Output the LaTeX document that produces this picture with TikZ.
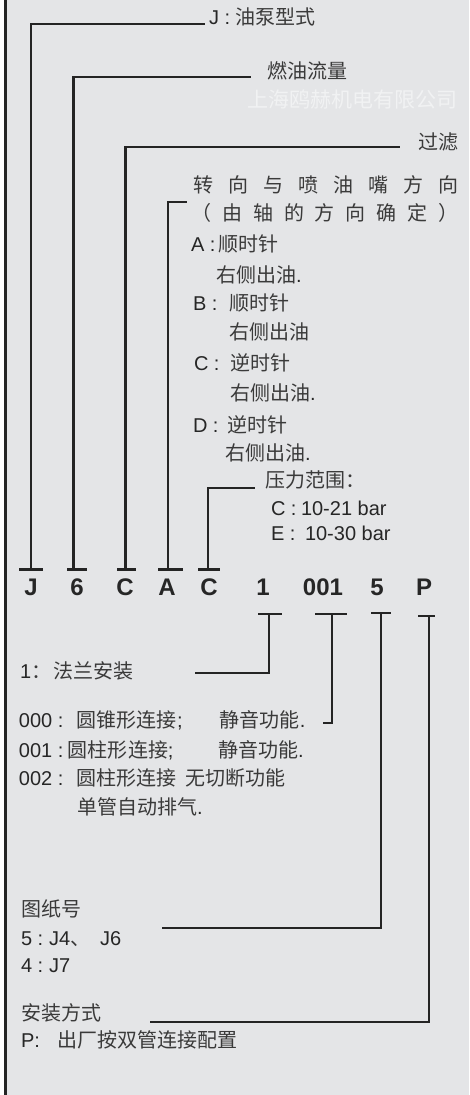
\documentclass[tikz,border=0pt]{standalone}
\usepackage{fontspec}
\setmainfont{Liberation Sans}
\newfontfamily\zhfont{Noto Sans CJK SC}
\definecolor{bg}{HTML}{E4E5E7}
\definecolor{ln}{HTML}{242424}
\definecolor{txt}{HTML}{262626}
\definecolor{zhc}{HTML}{3A3A3A}
\definecolor{wm}{HTML}{F1F2F3}
\newcommand\zh[1]{{\zhfont\color{zhc}#1}}
\newcommand\bx[2]{\makebox[#1][l]{#2}}
\newcommand\zhsp[2]{\makebox[#1][l]{\zhfont\color{zhc}#2}}
\begin{document}
\begin{tikzpicture}[x=1pt,y=-1pt,
  lbl/.style={anchor=base west,inner sep=0pt,outer sep=0pt,font=\fontsize{20}{24}\selectfont,text=txt},
  codech/.style={anchor=base,inner sep=0pt,outer sep=0pt,font=\fontsize{24}{28}\selectfont\bfseries,text=txt},
  lead/.style={draw=ln,line width=2.3pt,line join=miter,line cap=butt},
  tbar/.style={draw=ln,line width=2.3pt,line cap=butt}]
\useasboundingbox (0,0) rectangle (470,1095);
\fill[white] (0,0) rectangle (470,1095);
\fill[bg] (3.5,0) rectangle (468.5,1095);
\draw[lead] (5.5,0) -- (5.5,1095);

% code letters
\node[codech] (cJ)   at (31,595) {J};
\node[codech] (c6)   at (77,595) {6};
\node[codech] (cC)   at (125,595) {C};
\node[codech] (cA)   at (167,595) {A};
\node[codech] (cC2)  at (209,595) {C};
\node[codech] (c1)   at (263,595) {1};
\node[codech] (c001) at (323,595) {001};
\node[codech] (c5)   at (377,595) {5};
\node[codech] (cP)   at (424,595) {P};

% upper labels
\node[lbl] (lJ) at (209,24) {J : \zh{油泵型式}};
\node[lbl] (l6) at (267,78) {\zh{燃油流量}};
\node[lbl,font=\fontsize{21}{24}\selectfont] (wm) at (247,107.5) {{\zhfont\color{wm}上海鸥赫机电有限公司}};
\node[lbl] (lC) at (418,149) {\zh{过滤}};
\node[lbl] (lA1) at (193,192) {\zhsp{35pt}{转}\zhsp{35pt}{向}\zhsp{35pt}{与}\zhsp{35pt}{喷}\zhsp{35pt}{油}\zhsp{35pt}{嘴}\zhsp{35pt}{方}\zh{向}};
\node[lbl] (lA2) at (191,220) {\zhsp{31.5pt}{（}\zhsp{30.8pt}{由}\zhsp{30.8pt}{轴}\zhsp{30.8pt}{的}\zhsp{30.8pt}{方}\zhsp{30.8pt}{向}\zhsp{30.8pt}{确}\zhsp{30.8pt}{定}\zh{）}};
\node[lbl] (la) at (191,251) {\bx{27pt}{A :}\zh{顺时针}};
\node[lbl] (la2) at (216,282) {\zh{右侧出油}.};
\node[lbl] (lb) at (193,310) {\bx{36pt}{B :}\zh{顺时针}};
\node[lbl] (lb2) at (229,339) {\zh{右侧出油}};
\node[lbl] (lc) at (194,370) {\bx{36pt}{C :}\zh{逆时针}};
\node[lbl] (lc2) at (230,400) {\zh{右侧出油}.};
\node[lbl] (ld) at (193,432) {\bx{34pt}{D :}\zh{逆时针}};
\node[lbl] (ld2) at (225,460) {\zh{右侧出油}.};
\node[lbl] (lp) at (265,487) {\zh{压力范围：}};
\node[lbl] (lp1) at (271,515) {\bx{30pt}{C :}10-21 bar};
\node[lbl] (lp2) at (271,540) {\bx{34pt}{E :}10-30 bar};

% lower labels
\node[lbl] (l1) at (20,678) {\bx{33pt}{1\zh{：}}\zh{法兰安装}};
\node[lbl] (l000) at (19,727) {\bx{58pt}{000 :}\bx{143pt}{\zh{圆锥形连接};}\zh{静音功能}.};
\node[lbl] (l001) at (19,757) {\bx{49pt}{001 :}\bx{150pt}{\zh{圆柱形连接};}\zh{静音功能}.};
\node[lbl] (l002) at (19,785) {\bx{58pt}{002 :}\bx{109pt}{\zh{圆柱形连接}}\zh{无切断功能}};
\node[lbl] (l002b) at (77,814) {\zh{单管自动排气}.};
\node[lbl] (l5h) at (21,916) {\zh{图纸号}};
\node[lbl] (l5a) at (21,945) {\bx{28pt}{5 :}\bx{51pt}{J4\zh{、}}J6};
\node[lbl] (l5b) at (21,972) {\bx{28pt}{4 :}J7};
\node[lbl] (lPh) at (21,1020) {\zh{安装方式}};
\node[lbl] (lPa) at (21,1047) {\bx{36pt}{P:}\zh{出厂按双管连接配置}};

% connector coordinates
\coordinate (tJ) at (31,569.5);   \coordinate (eJ) at (205,24.3);
\coordinate (t6) at (73.5,569.5); \coordinate (e6) at (251,76.7);
\coordinate (tC) at (125.5,569.5);\coordinate (eC) at (400,146.7);
\coordinate (tA) at (168,569.5);  \coordinate (eA) at (187,201.7);
\coordinate (tC2) at (208,569.5); \coordinate (eC2) at (255,488.3);
\coordinate (t1) at (269.3,614.3);  \coordinate (e1) at (195,672.7);
\coordinate (t001) at (331.7,614.3);\coordinate (e001) at (323,723.3);
\coordinate (t5) at (380.7,612.7);  \coordinate (e5) at (162,928.3);
\coordinate (tP) at (429.3,615.7);  \coordinate (eP) at (150,1021.7);

% T bars
\draw[tbar] (19,569.5) -- (43,569.5);
\draw[tbar] (67,569.5) -- (87,569.5);
\draw[tbar] (117,569.5) -- (136,569.5);
\draw[tbar] (158,569.5) -- (183,569.5);
\draw[tbar] (198,569.5) -- (220,569.5);
\draw[tbar] (258,614.3) -- (282,614.3);
\draw[tbar] (315,614.3) -- (347,614.3);
\draw[tbar] (371,612.7) -- (391,612.7);
\draw[tbar] (418,615.7) -- (435,615.7);

% leaders
\draw[lead] (tJ) |- (eJ);
\draw[lead] (t6) |- (e6);
\draw[lead] (tC) |- (eC);
\draw[lead] (tA) |- (eA);
\draw[lead] (tC2) |- (eC2);
\draw[lead] (t1) |- (e1);
\draw[lead] (t001) |- (e001);
\draw[lead] (t5) |- (e5);
\draw[lead] (tP) |- (eP);
\end{tikzpicture}
\end{document}
